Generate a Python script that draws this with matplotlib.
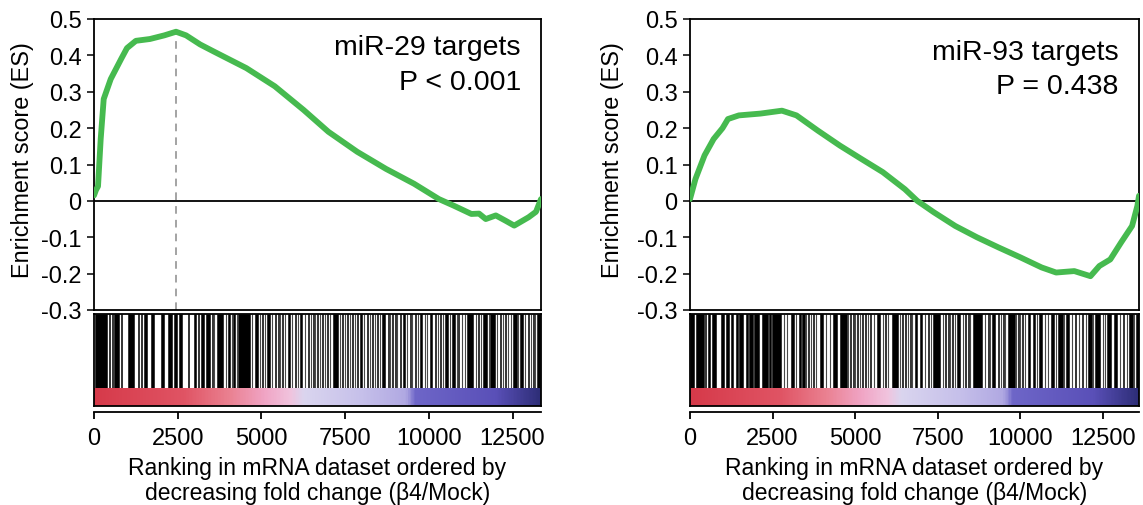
import numpy as np
import matplotlib
matplotlib.use('Agg')
import matplotlib.pyplot as plt
from matplotlib.colors import LinearSegmentedColormap

plt.rcParams['font.family'] = ['Liberation Sans', 'DejaVu Sans']
plt.rcParams['axes.unicode_minus'] = False

# ---------------- data ----------------
ytick_vals = [-0.3, -0.2, -0.1, 0, 0.1, 0.2, 0.3, 0.4, 0.5]
ytick_labels = ['-0.3', '-0.2', '-0.1', '0', '0.1', '0.2', '0.3', '0.4', '0.5']
xtick_vals = [0, 2500, 5000, 7500, 10000, 12500]
xtick_labels = ['0', '2500', '5000', '7500', '10000', '12500']

n_genes_29 = 13350
n_genes_93 = 13600

# miR-29 running enrichment score
rank_29 = [0, 60, 120, 200, 290, 500, 810, 985, 1250, 1670, 2100, 2450, 2750,
           3170, 3590, 4550, 5400, 6260, 7000, 7860, 8720, 9560, 10300, 10740,
           11270, 11500, 11700, 12000, 12300, 12550, 12980, 13200, 13350]
es_29 = [0.015, 0.03, 0.04, 0.17, 0.28, 0.335, 0.39, 0.42, 0.44, 0.445, 0.455,
         0.465, 0.455, 0.43, 0.41, 0.365, 0.315, 0.25, 0.19, 0.135, 0.088, 0.047,
         0.005, -0.013, -0.036, -0.035, -0.05, -0.04, -0.055, -0.068, -0.045,
         -0.03, 0.005]
peak_rank_29 = 2450
peak_es_29 = 0.465

# miR-93 running enrichment score
rank_93 = [0, 165, 440, 715, 985, 1150, 1480, 2135, 2785, 3225, 3875, 4540,
           5195, 5840, 6510, 6885, 7380, 8035, 8690, 9345, 10000, 10650, 11090,
           11640, 12130, 12400, 12730, 13060, 13390, 13550, 13600]
es_93 = [0.005, 0.06, 0.125, 0.17, 0.2, 0.225, 0.235, 0.24, 0.248, 0.235,
         0.193, 0.152, 0.115, 0.079, 0.032, 0.0, -0.031, -0.069, -0.1, -0.128,
         -0.155, -0.183, -0.197, -0.193, -0.207, -0.179, -0.161, -0.114, -0.069,
         -0.014, 0.014]

# target-gene hit positions (rank spans, start-end) for the barcode
hits_29 = [(30, 390), (450, 480), (540, 570), (600, 750), (805, 840), (1015, 1195),
           (1315, 1345), (1405, 1435), (1495, 1585), (1700, 1790), (2000, 2090),
           (2210, 2330), (2390, 2480), (2540, 2630), (2810, 2840), (2985, 3045),
           (3105, 3135), (3195, 3285), (3345, 3465), (3525, 3555),
           (3675, 3855), (4000, 4060), (4150, 4210), (4300, 4660), (4810, 4900),
           (5020, 5055), (5170, 5255), (5405, 5440), (5495, 5530), (5615, 5645),
           (5795, 5855), (6005, 6040), (6150, 6210), (6390, 6425), (6540, 6575),
           (6660, 6690), (6810, 6845), (6960, 6990), (7140, 7290), (7410, 7445),
           (7555, 7590), (7705, 7740), (7855, 7890), (7945, 8005), (8155, 8190),
           (8305, 8340), (8455, 8490), (8600, 8690), (8780, 8815), (8900, 8935),
           (8990, 9025), (9140, 9175), (9230, 9290), (9440, 9475), (9590, 9625),
           (9740, 9800), (10035, 10095), (10185, 10220), (10335, 10370),
           (10485, 10575), (10695, 10785), (10875, 10910), (11140, 11320),
           (11470, 11505), (11620, 11740), (11830, 11980), (12125, 12160),
           (12275, 12310), (12515, 12635), (12725, 12815), (12965, 13000),
           (13110, 13145), (13230, 13320)]
faint_29 = [3585, 3943, 4122, 4272, 4719, 4958, 5108, 5317, 5556, 5705, 5914,
            6093, 6302, 6482, 6601, 6750, 6900, 7049, 7348, 7497, 7647, 7796,
            8065, 8244, 8393, 8543, 8842, 9051, 9350, 9499, 9678, 9887, 9947,
            10275, 10425, 10634, 10843, 10992, 11082, 11410, 11560, 11799,
            12038, 12217, 12366, 12456, 12665, 12874, 13053, 13173]

hits_93 = [(0, 120), (180, 425), (455, 485), (545, 605), (665, 785), (940, 1030),
           (1090, 1180), (1240, 1300), (1390, 1455), (1485, 1605), (1695, 1755),
           (1785, 1905), (1935, 2090), (2180, 2360), (2390, 2450), (2480, 2755),
           (3055, 3150), (3300, 3360), (3390, 3480), (3570, 3605), (3725, 3760),
           (3935, 4025), (4330, 4450), (4540, 4750), (4845, 4880), (4935, 4970),
           (5055, 5085), (5205, 5240), (5295, 5330), (5450, 5485), (5660, 5750),
           (5900, 5935), (6115, 6295), (6415, 6450), (6505, 6540), (6660, 6695),
           (6810, 6870), (6960, 7020), (7205, 7240), (7355, 7570), (7720, 7755),
           (7810, 7845), (7930, 7960), (8080, 8175), (8325, 8360), (8415, 8450),
           (8565, 8840), (9020, 9055), (9140, 9230), (9325, 9360), (9475, 9510),
           (9625, 9840), (9930, 9965), (10050, 10085), (10230, 10290),
           (10385, 10445), (10565, 10655), (10930, 11020), (11140, 11290),
           (11380, 11475), (11655, 11685), (11865, 11895), (12050, 12170),
           (12260, 12410), (12620, 12745), (12835, 12925), (13105, 13135),
           (13290, 13410), (13500, 13590)]
faint_93 = [2845, 2936, 3209, 3511, 3663, 3814, 4117, 4238, 4783, 4995, 5146,
            5388, 5570, 5842, 5993, 6357, 6599, 6720, 7113, 7295, 7658, 7870,
            8022, 8264, 8476, 8930, 9081, 9414, 9535, 9868, 9989, 10140, 10504,
            10746, 10837, 11079, 11321, 11563, 11775, 11987, 12199, 12502,
            12562, 13016, 13228, 13440]

panel_titles = ['miR-29 targets', 'miR-93 targets']
panel_pvals = ['P < 0.001', 'P = 0.438']

# ---------------- styling ----------------
W, H = 1143, 506
GREEN = '#46ba4f'
grad_cmap = LinearSegmentedColormap.from_list('fc', [
    (0.00, '#d63a4a'), (0.20, '#e05464'), (0.30, '#ea8090'), (0.38, '#f0a4c4'),
    (0.44, '#f0c4de'), (0.47, '#dad5ef'), (0.60, '#c6c0ea'), (0.70, '#b0a8e2'),
    (0.72, '#6e66c8'), (0.90, '#5a50b8'), (1.00, '#2e2e78')])

fig = plt.figure(figsize=(W / 100, H / 100), dpi=100)


def fx(px):
    return px / W


def fy(py):
    return 1 - py / H


def panel(left_px, right_px, xmax, ranks, es, hits, faint, title, pval,
          ylab_x, txt_y1, txt_y2, peak=None):
    width = fx(right_px - left_px)
    # main ES axes
    ax = fig.add_axes([fx(left_px), fy(311), width, (311 - 20) / H])
    ax.plot(ranks, es, color=GREEN, lw=4.2, solid_capstyle='round',
            solid_joinstyle='round', zorder=3)
    ax.axhline(0, color='black', lw=1.3, zorder=2)
    if peak is not None:
        ax.vlines(peak[0], -0.3, peak[1], colors='#8a8a8a', linestyles=(0, (5, 4)),
                  lw=1.1, zorder=1)
    ax.set_xlim(0, xmax)
    ax.set_ylim(-0.3, 0.5)
    ax.set_xticks([])
    ax.set_yticks(ytick_vals)
    ax.set_yticklabels(ytick_labels, fontsize=17)
    ax.tick_params(axis='y', direction='out', length=5, width=1.1, pad=4)
    for s in ax.spines.values():
        s.set_linewidth(1.3)
    ax.set_ylabel('Enrichment score (ES)', fontsize=16.8)
    ax.yaxis.set_label_coords(ylab_x, 0.52)
    ax.text(0.955, txt_y1, title, transform=ax.transAxes, ha='right',
            va='baseline', fontsize=20.5)
    ax.text(0.955, txt_y2, pval, transform=ax.transAxes, ha='right',
            va='baseline', fontsize=20.5)

    # barcode + fold-change colour bar
    axb = fig.add_axes([fx(left_px), fy(407), width, (407 - 315) / H])
    axb.vlines(faint, 0.185, 1.0, colors='#4a4a4a', lw=0.8)
    axb.broken_barh([(s, e - s) for s, e in hits], (0.185, 0.815),
                    facecolors='black', edgecolors='black', linewidth=0.4)
    grad = np.linspace(0, 1, 400).reshape(1, -1)
    axb.imshow(grad, extent=(0, xmax, 0, 0.185), aspect='auto', cmap=grad_cmap,
               interpolation='bilinear', zorder=3)
    axb.set_xlim(0, xmax)
    axb.set_ylim(0, 1)
    axb.set_xticks([])
    axb.set_yticks([])
    for s in axb.spines.values():
        s.set_linewidth(1.3)
        s.set_zorder(5)

    # separate ranking axis
    axx = fig.add_axes([fx(left_px), fy(413), width, 0.0001])
    axx.patch.set_alpha(0)
    for k in ('left', 'right', 'top'):
        axx.spines[k].set_visible(False)
    axx.spines['bottom'].set_linewidth(1.3)
    axx.set_xlim(0, xmax)
    axx.set_yticks([])
    axx.set_xticks(xtick_vals)
    axx.set_xticklabels(xtick_labels, fontsize=17)
    axx.tick_params(axis='x', direction='out', length=5, width=1.3, pad=6)
    axx.set_xlabel('Ranking in mRNA dataset ordered by\ndecreasing fold change (\u03b24/Mock)',
                   fontsize=16.5, labelpad=5, linespacing=1.1)
    return ax


panel(94, 541, n_genes_29, rank_29, es_29, hits_29, faint_29, panel_titles[0],
      panel_pvals[0], -0.134, 0.880, 0.759, peak=(peak_rank_29, peak_es_29))
panel(690, 1139, n_genes_93, rank_93, es_93, hits_93, faint_93, panel_titles[1],
      panel_pvals[1], -0.148, 0.862, 0.745)

fig.savefig('out.png', dpi=100)
